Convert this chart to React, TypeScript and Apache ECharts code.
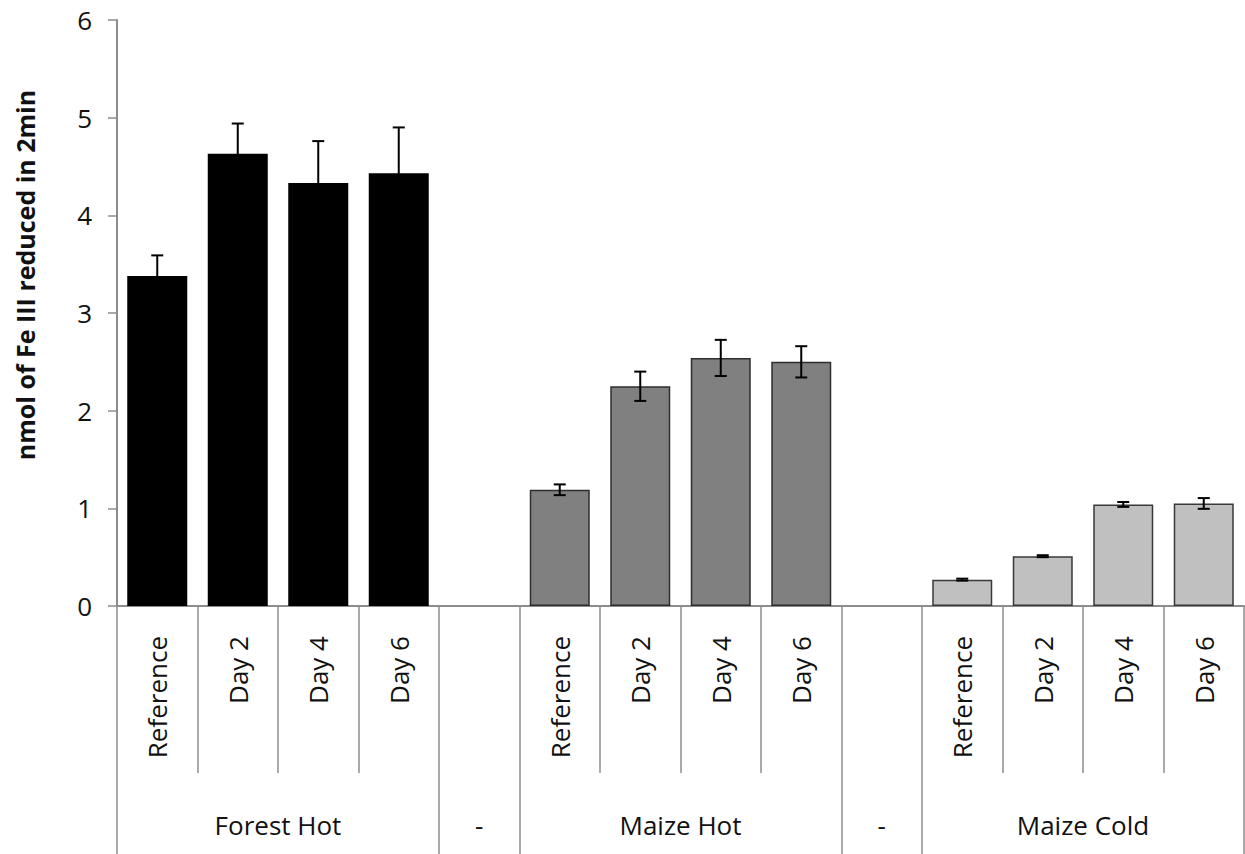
import React, { useEffect, useRef } from "react";
import * as echarts from "echarts";

const categories = [
  "Reference", "Day 2", "Day 4", "Day 6", "",
  "Reference", "Day 2", "Day 4", "Day 6", "",
  "Reference", "Day 2", "Day 4", "Day 6",
];
const values: (number | null)[] = [
  3.38, 4.63, 4.33, 4.43, null,
  1.19, 2.25, 2.54, 2.5, null,
  0.27, 0.51, 1.04, 1.05,
];
const errors: (number | null)[] = [
  0.21, 0.31, 0.43, 0.47, null,
  0.055, 0.15, 0.185, 0.16, null,
  0.01, 0.01, 0.025, 0.055,
];
const slotGroup = [0, 0, 0, 0, -1, 1, 1, 1, 1, -1, 2, 2, 2, 2];
const groupColors = ["#000000", "#808080", "#c0c0c0"];
const groupBorders = ["#000000", "#2e2e2e", "#383838"];
const groupNames = ["Forest Hot", "-", "Maize Hot", "-", "Maize Cold"];
const groupCenters = [2, 4.5, 7, 9.5, 12];
const groupEdges = [0, 4, 5, 9, 10, 14];
const innerEdges = [1, 2, 3, 6, 7, 8, 11, 12, 13];
const yTicks = [0, 1, 2, 3, 4, 5, 6];
const yTitle = "nmol of Fe III reduced in 2min";

const FONT = "'Open Sans', sans-serif";
const LINE = "#8c8c8c";

export default function App() {
  const ref = useRef<HTMLDivElement>(null);
  useEffect(() => {
    if (!ref.current) return;
    const chart = echarts.init(ref.current, null, { renderer: "svg" });
    const barData = values.map((v, i) =>
      v === null
        ? null
        : {
            value: v,
            itemStyle: {
              color: groupColors[slotGroup[i]],
              borderColor: groupBorders[slotGroup[i]],
              borderWidth: 1.5,
            },
          }
    );
    const errData = values
      .map((v, i) => (v === null ? null : [i, v, errors[i] as number]))
      .filter((d) => d !== null);
    chart.setOption({
      animation: false,
      backgroundColor: "#ffffff",
      grid: { left: 117, right: 1, top: 20, bottom: 248, containLabel: false },
      xAxis: [
        {
          type: "category",
          data: categories,
          position: "bottom",
          axisLine: { show: true, lineStyle: { color: LINE, width: 2 } },
          axisTick: { show: false },
          axisLabel: {
            interval: 0,
            rotate: 90,
            margin: 30,
            fontFamily: FONT,
            fontSize: 26,
            color: "#111",
          },
        },
        {
          type: "value",
          min: 0,
          max: 14,
          position: "bottom",
          axisLine: { show: false },
          splitLine: { show: false },
          axisTick: {
            show: true,
            customValues: groupEdges,
            length: 250,
            lineStyle: { color: LINE, width: 1.5 },
          },
          axisLabel: {
            show: true,
            customValues: groupCenters,
            formatter: (val: number) => {
              const k = groupCenters.indexOf(val);
              return k >= 0 ? groupNames[k] : "";
            },
            margin: 206,
            fontFamily: FONT,
            fontSize: 26,
            lineHeight: 26,
            color: "#111",
          },
        },
        {
          type: "value",
          min: 0,
          max: 14,
          position: "bottom",
          axisLine: { show: false },
          splitLine: { show: false },
          axisTick: {
            show: true,
            customValues: innerEdges,
            length: 167,
            lineStyle: { color: LINE, width: 1.5 },
          },
          axisLabel: { show: false },
        },
      ],
      yAxis: {
        type: "value",
        min: 0,
        max: 6,
        interval: 1,
        axisLine: { show: true, lineStyle: { color: LINE, width: 2 } },
        axisTick: { show: true, length: 9, lineStyle: { color: LINE, width: 1.5 } },
        splitLine: { show: false },
        axisLabel: {
          margin: 25,
          fontFamily: FONT,
          fontSize: 26,
          color: "#111",
          formatter: (v: number) => (yTicks.includes(v) ? String(v) : ""),
        },
      },
      graphic: [
        {
          type: "text",
          x: 25,
          y: 275,
          rotation: Math.PI / 2,
          style: {
            text: yTitle,
            fontFamily: FONT,
            fontWeight: "bold",
            fontSize: 25,
            fill: "#111",
            align: "center",
            verticalAlign: "middle",
          },
        },
      ],
      series: [
        {
          type: "bar",
          xAxisIndex: 0,
          data: barData,
          barWidth: 60,
        },
        {
          type: "custom",
          xAxisIndex: 0,
          data: errData,
          z: 10,
          renderItem: (_params: any, api: any) => {
            const x = api.value(0);
            const v = api.value(1);
            const e = api.value(2);
            const top = api.coord([x, v + e]);
            const bot = api.coord([x, v - e]);
            const half = 6;
            const style = { stroke: "#000", lineWidth: 2 };
            return {
              type: "group",
              children: [
                { type: "line", shape: { x1: top[0], y1: top[1], x2: bot[0], y2: bot[1] }, style },
                { type: "line", shape: { x1: top[0] - half, y1: top[1], x2: top[0] + half, y2: top[1] }, style },
                { type: "line", shape: { x1: bot[0] - half, y1: bot[1], x2: bot[0] + half, y2: bot[1] }, style },
              ],
            };
          },
        },
      ],
    });
    return () => chart.dispose();
  }, []);
  return (
    <div
      ref={ref}
      style={{ position: "fixed", left: 0, top: 0, width: 1245, height: 854 }}
    />
  );
}
